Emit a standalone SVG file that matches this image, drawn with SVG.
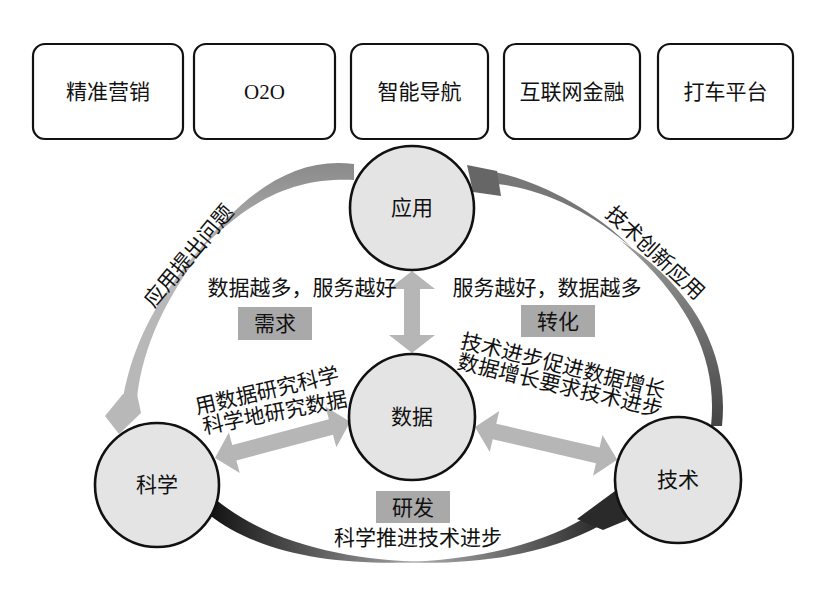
<svg xmlns="http://www.w3.org/2000/svg" width="828" height="590" viewBox="0 0 828 590">
<style>
.box{fill:#fff;stroke:#111;stroke-width:2.2}
.node{fill:#e4e4e4;stroke:#111;stroke-width:2.6}
.t{font-family:"Noto Sans CJK SC","Noto Sans",sans-serif;font-size:21px;fill:#111;text-anchor:middle}
.tag{fill:#a9a9a9}
.dbl{fill:#b6b6b6}
</style>
<defs>
<linearGradient id="gLeft" x1="0" y1="0" x2="0" y2="1">
<stop offset="0" stop-color="#8a8a8a"/>
<stop offset="1" stop-color="#b8b8b8"/>
</linearGradient>
<linearGradient id="gBotL" x1="0" y1="0" x2="1" y2="0">
<stop offset="0" stop-color="#111"/>
<stop offset="1" stop-color="#aaa"/>
</linearGradient>
<linearGradient id="gBotR" x1="0" y1="0" x2="1" y2="0">
<stop offset="0" stop-color="#bbb"/>
<stop offset="1" stop-color="#2a2a2a"/>
</linearGradient>
<linearGradient id="gRight" x1="0" y1="1" x2="0" y2="0">
<stop offset="0" stop-color="#444"/>
<stop offset="1" stop-color="#999"/>
</linearGradient>
</defs>

<g id="top-boxes">
<g id="box-marketing"><rect class="box" x="33" y="44" width="150" height="95" rx="12"/><text class="t" x="108" y="99">精准营销</text></g>
<g id="box-o2o"><rect class="box" x="194" y="44" width="141" height="95" rx="12"/><text class="t" x="264.5" y="99" style="font-family:'Liberation Serif',serif">O2O</text></g>
<g id="box-nav"><rect class="box" x="351" y="44" width="137" height="95" rx="12"/><text class="t" x="419.5" y="99">智能导航</text></g>
<g id="box-finance"><rect class="box" x="504" y="44" width="136" height="95" rx="12"/><text class="t" x="572" y="99">互联网金融</text></g>
<g id="box-taxi"><rect class="box" x="658" y="44" width="135" height="95" rx="12"/><text class="t" x="725.5" y="99">打车平台</text></g>
</g>

<g id="connectors">
<!-- left arc: 应用 -> 科学 -->
<path fill="url(#gLeft)" d="M354,164 C300,157 250,185 195,255 C255,193 300,178 354,180 Z"/>
<path fill="#b8b8b8" d="M215,232 C170,280 135,330 123,398 L137,398 C144,335 175,285 215,232 Z"/>
<polygon fill="#b8b8b8" points="123,394 105,416 119,434 141,413 137,394"/>
<!-- right arc: 技术 -> 应用 -->
<path fill="url(#gRight)" d="M711,426 C718,360 690,300 620,240 C700,292 729,360 722,426 Z"/>
<path fill="#777" d="M632,248 C592,208 540,182 495,172 L497,184 C540,188 592,212 632,248 Z"/>
<polygon fill="#666" points="467,165 497,171 501,196 473,192"/>
<!-- bottom arc: 科学 -> 技术 -->
<path fill="url(#gBotL)" d="M214,498 C270,545 350,560 425,562 C340,566 262,556 208,514 Z"/>
<path fill="url(#gBotR)" d="M395,562 C480,561 550,542 592,513 L601,525 C550,553 480,566 395,562 Z"/>
<polygon fill="#2a2a2a" points="577,519 615,491 627,520 603,530"/>
<!-- straight double arrows -->
<polygon class="dbl" points="412,271 435,289 420,289 420,335 435,335 412,353 389,335 404,335 404,289 389,289"/>
<polygon class="dbl" transform="translate(215,458) rotate(-15)" points="0,0 20,-21 20,-8 120,-8 120,-21 140,0 120,21 120,8 20,8 20,21"/>
<polygon class="dbl" transform="translate(475,427) rotate(13)" points="0,0 20,-21 20,-8 126,-8 126,-21 146,0 126,21 126,8 20,8 20,21"/>
</g>

<g id="labels">
<text class="t" x="302" y="295">数据越多，服务越好</text>
<text class="t" x="547" y="295">服务越好，数据越多</text>
<g id="tag-demand"><rect class="tag" x="238" y="307" width="74" height="33"/><text class="t" x="275" y="331">需求</text></g>
<g id="tag-transform"><rect class="tag" x="521" y="305" width="74" height="32"/><text class="t" x="558" y="329">转化</text></g>
<g id="tag-rd"><rect class="tag" x="376" y="491" width="74" height="32"/><text class="t" x="413" y="515">研发</text></g>
<text class="t" x="418" y="545">科学推进技术进步</text>
<g transform="translate(267,391) rotate(-13)"><text class="t" x="0" y="7">用数据研究科学</text></g>
<g transform="translate(275,413) rotate(-11)"><text class="t" x="0" y="7">科学地研究数据</text></g>
<g transform="translate(563,366) rotate(14)"><text class="t" x="0" y="7">技术进步促进数据增长</text></g>
<g transform="translate(560,386) rotate(13.5)"><text class="t" x="0" y="7">数据增长要求技术进步</text></g>
<g transform="translate(189,256) rotate(-50)"><text class="t" x="0" y="7">应用提出问题</text></g>
<g transform="translate(655,253) rotate(43)"><text class="t" x="0" y="7">技术创新应用</text></g>
</g>

<g id="node-application"><circle class="node" cx="412" cy="208" r="62"/><text class="t" x="412" y="215">应用</text></g>
<g id="node-data"><circle class="node" cx="412" cy="417" r="63"/><text class="t" x="412" y="424">数据</text></g>
<g id="node-science"><circle class="node" cx="157" cy="485" r="62"/><text class="t" x="157" y="492">科学</text></g>
<g id="node-technology"><circle class="node" cx="678" cy="480" r="63"/><text class="t" x="678" y="487">技术</text></g>
</svg>
